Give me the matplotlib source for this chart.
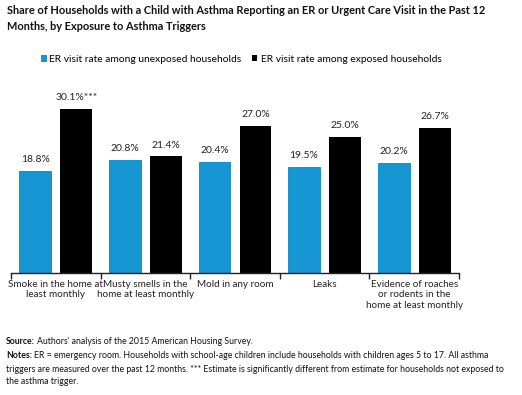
import matplotlib
matplotlib.use("Agg")
import matplotlib.pyplot as plt
import numpy as np

plt.rcParams['font.family'] = ['Lato', 'DejaVu Sans']

categories = ["Smoke in the home at\nleast monthly",
              "Musty smells in the\nhome at least monthly",
              "Mold in any room",
              "Leaks",
              "Evidence of roaches\nor rodents in the\nhome at least monthly"]
unexposed = [18.8, 20.8, 20.4, 19.5, 20.2]
exposed = [30.1, 21.4, 27.0, 25.0, 26.7]
exposed_marks = ["***", "", "", "", ""]
series_names = ["ER visit rate among unexposed households",
                "ER visit rate among exposed households"]

W, H = 522, 395
fig = plt.figure(figsize=(W / 100, H / 100), dpi=100)

ax_left, ax_right, ax_bottom, ax_top = 11, 459, 272.7, 90
ax = fig.add_axes([ax_left / W, 1 - ax_bottom / H,
                   (ax_right - ax_left) / W, (ax_bottom - ax_top) / H])

x = np.arange(len(categories))
w = 0.355
b1 = ax.bar(x + 0.271, unexposed, w, color='#1696d2', edgecolor='#0a87c6', linewidth=0.6,
            label=series_names[0])
b2 = ax.bar(x + 0.729, exposed, w, color='#000000', label=series_names[1])

for rect, v in zip(b1, unexposed):
    ax.annotate(f"{v:.1f}%", (rect.get_x() + rect.get_width() / 2, v),
                xytext=(0, 5), textcoords='offset points', ha='center', va='bottom',
                fontsize=7.5, color='#222222')
for rect, v, m in zip(b2, exposed, exposed_marks):
    ax.annotate(f"{v:.1f}%{m}", (rect.get_x() + rect.get_width() / 2, v),
                xytext=(0, 5), textcoords='offset points', ha='center', va='bottom',
                fontsize=7.5, color='#222222')

ax.set_xlim(0, len(categories))
ax.set_ylim(0, (ax_bottom - ax_top) / 5.43)
ax.set_xticks(np.arange(len(categories) + 1))
ax.set_xticklabels([])
ax.set_xticks(x + 0.5, minor=True)
ax.set_xticklabels(categories, minor=True, fontsize=7.1, color='#222222', linespacing=1.25)
ax.tick_params(axis='x', which='major', length=4, width=1, color='#222222', direction='out')
ax.tick_params(axis='x', which='minor', length=0, pad=5)
ax.set_yticks([])
for s in ['top', 'right', 'left']:
    ax.spines[s].set_visible(False)
ax.spines['bottom'].set_color('#222222')
ax.spines['bottom'].set_linewidth(1)

fig.legend(handles=[b1, b2], labels=series_names, loc='center', ncol=2,
           bbox_to_anchor=(241 / W, 1 - 59 / H), frameon=False, fontsize=7.4,
           handlelength=0.55, handleheight=0.55, handletextpad=0.3, columnspacing=1.0)

fig.text(7 / W, 1 - 11 / H, "Share of Households with a Child with Asthma Reporting an ER or Urgent Care Visit in the Past 12",
         fontsize=7.95, fontweight='bold', va='center', ha='left', color='#111111')
fig.text(7 / W, 1 - 27 / H, "Months, by Exposure to Asthma Triggers",
         fontsize=7.95, fontweight='bold', va='center', ha='left', color='#111111')

renderer = fig.canvas.get_renderer()


def rich_line(y, bold, rest, size=6.3):
    t = fig.text(6 / W, 1 - y / H, bold, fontsize=size, fontweight='bold', va='center', ha='left',
                 color='#111111')
    bb = t.get_window_extent(renderer)
    fig.text(bb.x1 / W + 2 / W, 1 - y / H, rest, fontsize=size, va='center', ha='left', color='#111111')


rich_line(342, "Source:", "Authors' analysis of the 2015 American Housing Survey.")
rich_line(356, "Notes:", "ER = emergency room. Households with school-age children include households with children ages 5 to 17. All asthma")
fig.text(6 / W, 1 - 369 / H, "triggers are measured over the past 12 months. *** Estimate is significantly different from estimate for households not exposed to",
         fontsize=6.3, va='center', ha='left', color='#111111')
fig.text(6 / W, 1 - 382 / H, "the asthma trigger.", fontsize=6.3, va='center', ha='left', color='#111111')

fig.savefig("out.png", dpi=100, facecolor='white')
